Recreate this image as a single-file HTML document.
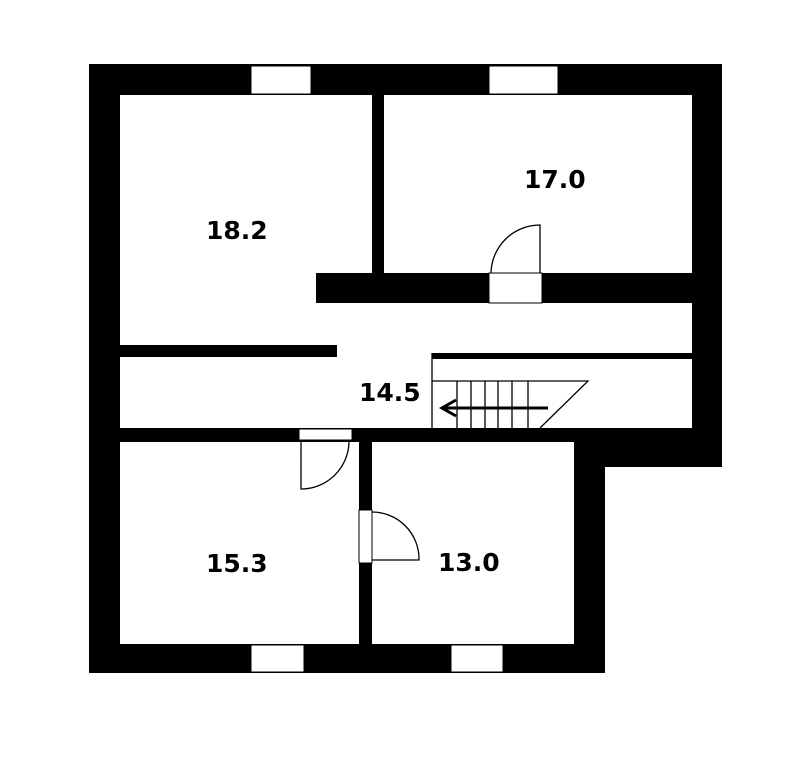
<!DOCTYPE html>
<html><head><meta charset="utf-8"><style>
html,body{margin:0;padding:0;background:#fff;}
svg{display:block}
text{font-family:"DejaVu Sans","Liberation Sans",sans-serif;font-weight:bold;font-size:25px;fill:#000;}
</style></head><body>
<svg width="790" height="771" viewBox="0 0 790 771" xmlns="http://www.w3.org/2000/svg">
<rect width="790" height="771" fill="#fff"/>
<g fill="#000">
<!-- top wall -->
<rect x="89" y="64" width="633" height="31"/>
<!-- left wall -->
<rect x="89" y="64" width="31" height="609"/>
<!-- right wall upper -->
<rect x="692" y="64" width="30" height="403"/>
<!-- step wall -->
<rect x="574" y="437" width="148" height="30"/>
<rect x="574" y="437" width="31" height="236"/>
<!-- bottom wall -->
<rect x="89" y="644" width="516" height="29"/>
<!-- wall between 18.2 and 17.0 -->
<rect x="372" y="95" width="12" height="180"/>
<!-- horizontal wall under 17.0 -->
<rect x="316" y="273" width="377" height="30"/>
<!-- thin walls -->
<rect x="120" y="345" width="217" height="12"/>
<rect x="432" y="353" width="261" height="6"/>
<!-- wall above bottom rooms -->
<rect x="120" y="428" width="573" height="14"/>
<!-- wall between 15.3 and 13.0 -->
<rect x="359" y="442" width="13" height="202"/>
</g>
<g fill="#fff" stroke="#000" stroke-width="1">
<!-- windows -->
<rect x="251" y="66" width="60" height="28"/>
<rect x="489" y="66" width="69" height="28"/>
<rect x="251" y="645" width="53" height="27"/>
<rect x="451" y="645" width="52" height="27"/>
<!-- doors -->
<rect x="489" y="273" width="53" height="30"/>
<rect x="299" y="429" width="53" height="11"/>
<rect x="359" y="510" width="13" height="53"/>
</g>
<g fill="none" stroke="#000" stroke-width="1.3">
<!-- door arcs -->
<path d="M540 273 V225 A49 49 0 0 0 491 273"/>
<path d="M301 442 V489 A48 48 0 0 0 349 442"/>
<path d="M372 512 A47 47 0 0 1 419 560 H372"/>
<!-- stairs -->
<path d="M432 353 V428"/>
<path d="M432 381 H588 L540 428"/>
<path d="M457 381 V428 M471 381 V428 M485 381 V428 M498 381 V428 M512 381 V428 M528 381 V428"/>
</g>
<path d="M548 408 H444" stroke="#000" stroke-width="3" fill="none"/>
<path d="M456 400 L442 408 L456 416" stroke="#000" stroke-width="3" fill="none"/>
<text x="206" y="239">18.2</text>
<text x="524" y="188">17.0</text>
<text x="359" y="401">14.5</text>
<text x="206" y="572">15.3</text>
<text x="438" y="571">13.0</text>
</svg>
</body></html>
